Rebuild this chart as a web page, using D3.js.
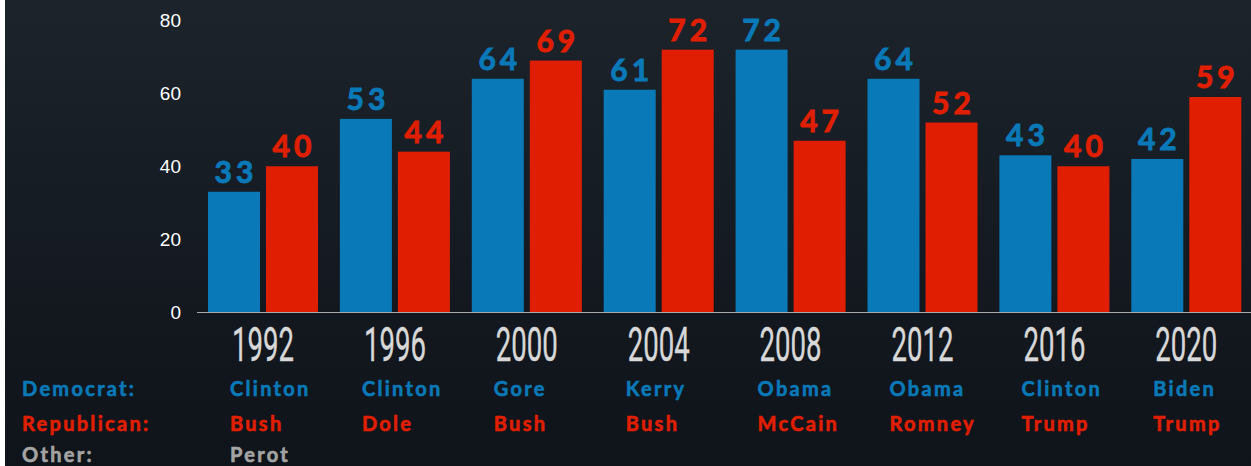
<!DOCTYPE html>
<html>
<head>
<meta charset="utf-8">
<script src="https://cdn.jsdelivr.net/npm/d3@7"></script>
<style>
  html, body { margin: 0; padding: 0; background: #151a21; }
  svg { display: block; }
</style>
</head>
<body>
<div id="chart"></div>
<script>
const years = ["1992", "1996", "2000", "2004", "2008", "2012", "2016", "2020"];
const demValues = [33, 53, 64, 61, 72, 64, 43, 42];
const repValues = [40, 44, 69, 72, 47, 52, 40, 59];
const demNames = ["Clinton", "Clinton", "Gore", "Kerry", "Obama", "Obama", "Clinton", "Biden"];
const repNames = ["Bush", "Dole", "Bush", "Bush", "McCain", "Romney", "Trump", "Trump"];
const otherNames = ["Perot", "", "", "", "", "", "", ""];
const yTicks = [0, 20, 40, 60, 80];
const rowLabels = ["Democrat:", "Republican:", "Other:"];

const W = 1251, H = 466;
const BLUE = "#0a79b8", RED = "#e01f02", GREY = "#a4a4a4";

const svg = d3.select("#chart").append("svg")
  .attr("width", W).attr("height", H);

const defs = svg.append("defs");
const grad = defs.append("linearGradient").attr("id", "bg")
  .attr("x1", 0).attr("y1", 0).attr("x2", 0).attr("y2", 1);
grad.append("stop").attr("offset", "0%").attr("stop-color", "#1c232b");
grad.append("stop").attr("offset", "100%").attr("stop-color", "#0f131a");
svg.append("rect").attr("width", W).attr("height", H).attr("fill", "url(#bg)");
svg.append("rect").attr("width", 5).attr("height", H).attr("fill", "#ffffff");

const data = years.map((y, i) => ({
  year: y,
  vals: [{ key: "D", v: demValues[i] }, { key: "R", v: repValues[i] }]
}));

const x0 = d3.scaleBand().domain(years).range([208, 1241.3]).paddingInner(0.166).paddingOuter(0);
const x1 = d3.scaleBand().domain(["D", "R"]).range([0, x0.bandwidth()]).paddingInner(0.1035);
const y = d3.scaleLinear().domain([0, 80]).range([312, 20.5]);
const color = d3.scaleOrdinal().domain(["D", "R"]).range([BLUE, RED]);

// y tick labels
svg.append("g").selectAll("text")
  .data(yTicks).enter().append("text")
  .attr("x", 181)
  .attr("y", d => y(d))
  .attr("dy", "0.36em")
  .attr("text-anchor", "end")
  .attr("fill", "#ffffff")
  .style("font", "19px 'Liberation Sans', Arial, sans-serif")
  .text(d => d);

// bars
const groups = svg.append("g").selectAll("g")
  .data(data).enter().append("g")
  .attr("transform", d => `translate(${x0(d.year)},0)`);

groups.selectAll("rect")
  .data(d => d.vals).enter().append("rect")
  .attr("x", d => x1(d.key))
  .attr("y", d => y(d.v))
  .attr("width", x1.bandwidth())
  .attr("height", d => y(0) - y(d.v))
  .attr("fill", d => color(d.key));

groups.selectAll("text.val")
  .data(d => d.vals).enter().append("text")
  .attr("class", "val")
  .attr("x", d => x1(d.key) + x1.bandwidth() / 2 + 2)
  .attr("y", d => y(d.v) - 9)
  .attr("text-anchor", "middle")
  .attr("fill", d => color(d.key))
  .attr("stroke", d => color(d.key))
  .attr("stroke-width", 0.9)
  .style("font", "bold 30px Lato, sans-serif")
  .style("letter-spacing", "4px")
  .text(d => d.v);

// baseline
svg.append("line")
  .attr("x1", 197).attr("x2", W)
  .attr("y1", y(0) + 0.5).attr("y2", y(0) + 0.5)
  .attr("stroke", "#a9a9a9").attr("stroke-width", 1.2);

// year labels (condensed look via textLength)
svg.append("g").selectAll("text")
  .data(years).enter().append("text")
  .attr("x", d => x0(d) + x0.bandwidth() / 2 - 31)
  .attr("y", 361)
  .attr("textLength", 62)
  .attr("lengthAdjust", "spacingAndGlyphs")
  .attr("fill", "#d8d8d8")
  .attr("stroke", "#d8d8d8").attr("stroke-width", 0.4)
  .style("font", "48px Roboto, sans-serif")
  .text(d => d);

// candidate rows
const rows = [
  { label: rowLabels[0], names: demNames, color: BLUE, y: 396 },
  { label: rowLabels[1], names: repNames, color: RED, y: 431 },
  { label: rowLabels[2], names: otherNames, color: GREY, y: 462 }
];
const nameFont = "bold 20px Lato, sans-serif";

rows.forEach(r => {
  svg.append("text")
    .attr("x", 22).attr("y", r.y)
    .attr("fill", r.color)
    .attr("stroke", r.color).attr("stroke-width", 0.6)
    .style("font", nameFont)
    .style("letter-spacing", "2.3px")
    .text(r.label);
  svg.append("g").selectAll("text")
    .data(r.names.map((n, i) => ({ n, year: years[i] })))
    .enter().append("text")
    .attr("x", d => x0(d.year) + x0.bandwidth() / 2 - 33)
    .attr("y", r.y)
    .attr("fill", r.color)
    .attr("stroke", r.color).attr("stroke-width", 0.6)
    .style("font", nameFont)
    .style("letter-spacing", "2.3px")
    .text(d => d.n);
});
</script>
</body>
</html>
